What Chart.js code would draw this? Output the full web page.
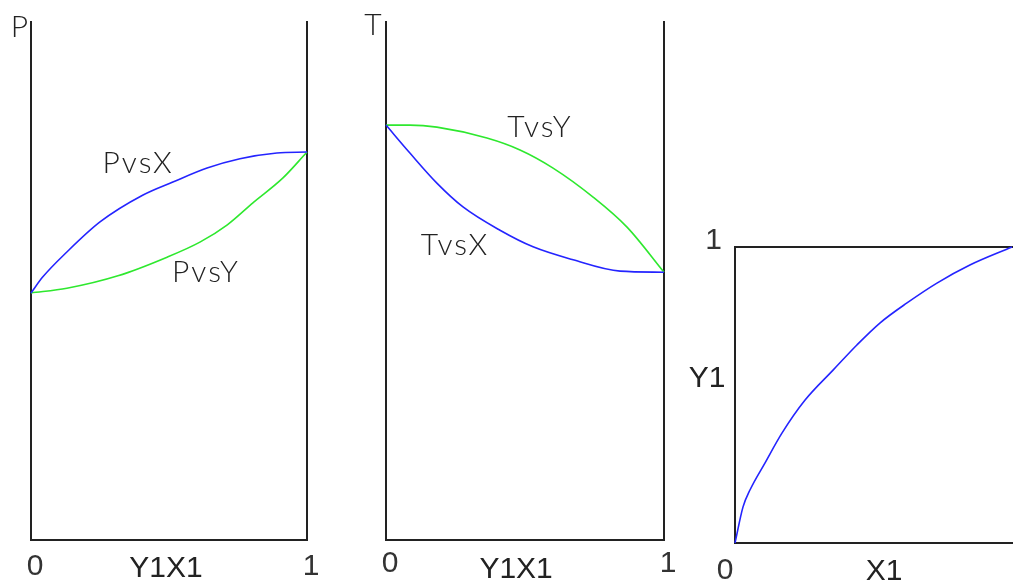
<!DOCTYPE html>
<html>
<head>
<meta charset="utf-8">
<script src="https://cdn.jsdelivr.net/npm/chart.js@4/dist/chart.umd.min.js"></script>
<style>
html,body{margin:0;padding:0;background:#fff;overflow:hidden;width:1013px;height:580px}
.p{position:absolute;left:0;top:0;width:1013px;height:580px}
</style>
</head>
<body>
<div class="p"><canvas id="c1" width="1013" height="580"></canvas></div>
<div class="p"><canvas id="c2" width="1013" height="580"></canvas></div>
<div class="p"><canvas id="c3" width="1013" height="580"></canvas></div>
<script>
// ---- data ----
const tickValues = [0, 1];
// Panel 1: P vs X and P vs Y
const pvsX_x = [0, 0.043, 0.130, 0.250, 0.406, 0.514, 0.638, 0.757, 0.891, 1];
const pvsX_p = [0.477, 0.508, 0.556, 0.614, 0.666, 0.691, 0.718, 0.736, 0.747, 0.749];
const pvsY_y = [0, 0.130, 0.315, 0.493, 0.612, 0.710, 0.804, 0.913, 1];
const pvsY_p = [0.477, 0.486, 0.510, 0.546, 0.575, 0.608, 0.651, 0.699, 0.749];
// Panel 2: T vs Y and T vs X
const tvsY_y = [0, 0.086, 0.183, 0.363, 0.482, 0.601, 0.745, 0.867, 1];
const tvsY_t = [0.801, 0.801, 0.797, 0.776, 0.753, 0.718, 0.662, 0.604, 0.517];
const tvsX_x = [0, 0.086, 0.183, 0.277, 0.410, 0.529, 0.673, 0.842, 1];
const tvsX_t = [0.801, 0.747, 0.689, 0.643, 0.598, 0.566, 0.541, 0.519, 0.517];
// Panel 3: Y1 vs X1 equilibrium curve
const eqX1 = [0, 0.029, 0.054, 0.108, 0.170, 0.253, 0.354, 0.440, 0.523, 0.621, 0.729, 0.848, 1];
const eqY1 = [0, 0.122, 0.179, 0.270, 0.372, 0.483, 0.584, 0.669, 0.743, 0.811, 0.878, 0.939, 1];

const BLUE = '#2424ff', GREEN = '#2ee82e', INK = '#222';
const NARROW = "'Liberation Sans Narrow', 'Liberation Sans', sans-serif";
const LIGHT = "300 30px Lato, 'Liberation Sans', sans-serif";

function pts(xs, ys) { return xs.map((v, i) => ({x: v, y: ys[i]})); }

const textPlugin = {
  id: 'freeText',
  afterDraw(chart, args, opts) {
    const {ctx} = chart;
    const x = chart.scales.x, y = chart.scales.y;
    (opts.items || []).forEach(it => {
      ctx.save();
      ctx.font = it.font;
      ctx.fillStyle = INK;
      ctx.textAlign = 'center';
      ctx.textBaseline = 'alphabetic';
      if (it.spacing) ctx.letterSpacing = it.spacing;
      ctx.fillText(it.text, x.getPixelForValue(it.x), y.getPixelForValue(it.y));
      ctx.restore();
    });
  }
};

function sizeAxis(s, size) {
  if (s.isHorizontal()) { s.height = size; s.paddingLeft = 0; s.paddingRight = 0; }
  else { s.width = size; s.paddingTop = 0; s.paddingBottom = 0; }
}

function hiddenAxis(position, size) {
  return {
    type: 'linear', position, min: 0, max: 1,
    grid: {display: false, drawTicks: false},
    border: {display: true, color: INK, width: 2},
    ticks: {display: false},
    afterFit: s => sizeAxis(s, size)
  };
}

function tickAxis(position, size, extraTicks) {
  return {
    type: 'linear', position, min: 0, max: 1,
    grid: {display: false, drawTicks: false},
    border: {display: true, color: INK, width: 2},
    afterBuildTicks: s => { s.ticks = tickValues.map(v => ({value: v})); },
    ticks: Object.assign({
      display: true, color: '#333', maxRotation: 0, autoSkip: false,
      font: {family: NARROW, size: 30, lineHeight: 1}
    }, extraTicks),
    afterFit: s => sizeAxis(s, size)
  };
}

function lineDs(data, color) {
  return {data, borderColor: color, borderWidth: 1.6, pointRadius: 0, cubicInterpolationMode: 'monotone', borderJoinStyle: 'round', fill: false, clip: 4};
}

const common = {
  responsive: false, animation: false, devicePixelRatio: 1,
  plugins: {legend: {display: false}, tooltip: {enabled: false}}
};

// Panel 1
new Chart(document.getElementById('c1'), {
  type: 'line',
  data: {datasets: [lineDs(pts(pvsX_x, pvsX_p), BLUE), lineDs(pts(pvsY_y, pvsY_p), GREEN)]},
  options: Object.assign({}, common, {
    layout: {padding: {left: 31, right: 706, top: 22, bottom: 2}},
    scales: {
      x: tickAxis('bottom', 38, {padding: 12, labelOffset: 4}),
      y: hiddenAxis('left', 0),
      y2: hiddenAxis('right', 0)
    },
    plugins: Object.assign({}, common.plugins, {
      freeText: {items: [
        {text: 'P', x: -0.042, y: 0.971, font: LIGHT},
        {text: 'PvsX', x: 0.388, y: 0.708, font: LIGHT, spacing: '2px'},
        {text: 'PvsY', x: 0.634, y: 0.498, font: LIGHT, spacing: '2px'},
        {text: 'Y1X1', x: 0.489, y: -0.0714, font: '30px ' + NARROW}
      ]}
    })
  }),
  plugins: [textPlugin]
});

// Panel 2
new Chart(document.getElementById('c2'), {
  type: 'line',
  data: {datasets: [lineDs(pts(tvsX_x, tvsX_t), BLUE), lineDs(pts(tvsY_y, tvsY_t), GREEN)]},
  options: Object.assign({}, common, {
    layout: {padding: {left: 386, right: 349, top: 22, bottom: 2}},
    scales: {
      x: tickAxis('bottom', 38, {padding: 9, labelOffset: 4}),
      y: hiddenAxis('left', 0),
      y2: hiddenAxis('right', 0)
    },
    plugins: Object.assign({}, common.plugins, {
      freeText: {items: [
        {text: 'T', x: -0.047, y: 0.975, font: LIGHT},
        {text: 'TvsY', x: 0.554, y: 0.778, font: LIGHT, spacing: '2px'},
        {text: 'TvsX', x: 0.248, y: 0.550, font: LIGHT, spacing: '2px'},
        {text: 'Y1X1', x: 0.468, y: -0.0734, font: '30px ' + NARROW}
      ]}
    })
  }),
  plugins: [textPlugin]
});

// Panel 3
new Chart(document.getElementById('c3'), {
  type: 'line',
  data: {datasets: [lineDs(pts(eqX1, eqY1), BLUE)]},
  options: Object.assign({}, common, {
    layout: {padding: {left: 705, right: 1, top: 247, bottom: 0}},
    scales: {
      x: tickAxis('bottom', 37, {padding: 13, labelOffset: -10, callback: v => (v === 0 ? '0' : '')}),
      y: tickAxis('left', 30, {padding: 13, labelOffset: -6, callback: v => (v === 1 ? '1' : '')}),
      x2: hiddenAxis('top', 0)
    },
    plugins: Object.assign({}, common.plugins, {
      freeText: {items: [
        {text: 'Y1', x: -0.101, y: 0.527, font: '30px ' + NARROW},
        {text: 'X1', x: 0.538, y: -0.125, font: '30px ' + NARROW}
      ]}
    })
  }),
  plugins: [textPlugin]
});
</script>
</body>
</html>
